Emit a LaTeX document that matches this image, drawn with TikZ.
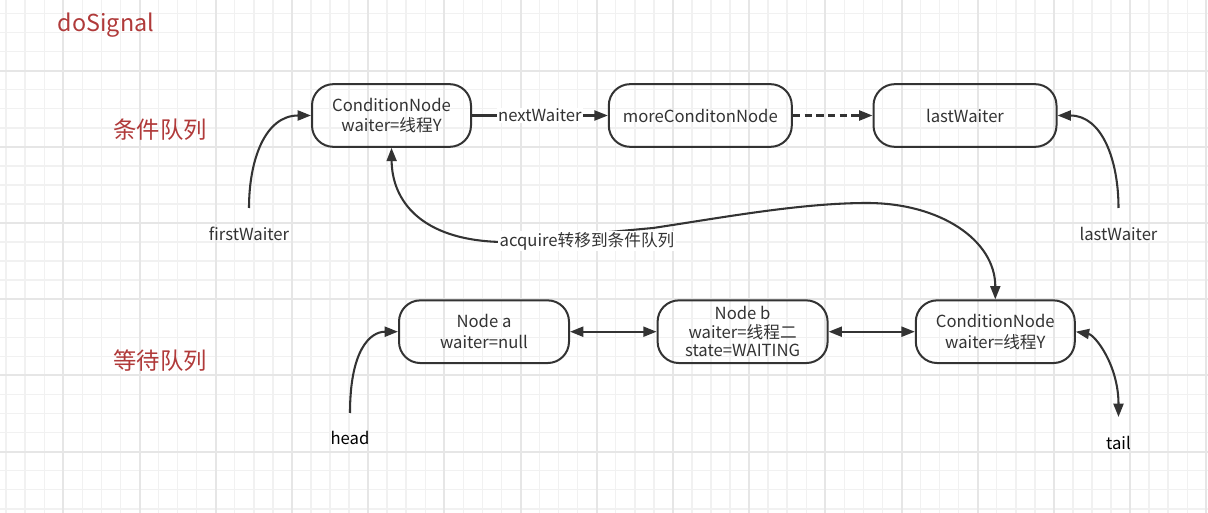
\documentclass[tikz,border=0pt]{standalone}
\usepackage{fontspec}
\setmainfont{Noto Sans CJK SC}
\usetikzlibrary{arrows.meta}
\definecolor{redt}{HTML}{B03A3A}
\definecolor{ln}{HTML}{333333}
\definecolor{gmin}{HTML}{F1F1F1}
\definecolor{gmaj}{HTML}{E6E6E6}
\begin{document}
\begin{tikzpicture}[x=0.75pt,y=-0.75pt,
  box/.style={draw=ln, line width=1.5pt, rounded corners=16pt, minimum height=47pt,
    inner sep=0pt, align=center, text=ln, font=\fontsize{12.5pt}{15.5pt}\selectfont},
  tip/.tip={Triangle[length=10pt,width=7.5pt]},
  conn/.style={draw=ln, line width=1.55pt, -tip},
  both/.style={draw=ln, line width=1.55pt, tip-tip},
  lbl/.style={text=ln, inner sep=1pt, font=\fontsize{12.5pt}{15pt}\selectfont},
  title/.style={text=redt, inner sep=0pt, font=\fontsize{17.5pt}{20pt}\selectfont},
  gridmin/.style={draw=gmin, line width=1.1pt},
  gridmaj/.style={draw=gmaj, line width=1.5pt}]
\fill[white] (0,0) rectangle (1208,513);
\useasboundingbox (0,0) rectangle (1208,513);
% grid
\foreach \i in {0,...,63} {\pgfmathsetmacro\xx{6.15+19.05*\i}\draw[gridmin] (\xx,0) -- (\xx,513);}
\foreach \j in {0,...,26} {\pgfmathsetmacro\yy{13.5+19.05*\j}\draw[gridmin] (0,\yy) -- (1208,\yy);}
\foreach \i in {0,...,15} {\pgfmathsetmacro\xx{63.3+76.2*\i}\draw[gridmaj] (\xx,0) -- (\xx,513);}
\foreach \j in {0,...,5} {\pgfmathsetmacro\yy{70.65+76.2*\j}\draw[gridmaj] (0,\yy) -- (1208,\yy);}
% titles
\node[title] (ds) at (106,25) {doSignal};
\node[title] (q1) at (160,130) {条件队列};
\node[title] (q2) at (160,361) {等待队列};
% nodes
\node[box, minimum width=119.25pt] (cn1) at (391.5,115.5) {ConditionNode\\waiter=线程Y};
\node[box, minimum width=137.25pt] (more) at (700.3,115.5) {moreConditonNode};
\node[box, minimum width=137.25pt] (last) at (965,115.5) {lastWaiter};
\node[box, minimum width=127.5pt] (na) at (484,331.7) {Node a\\waiter=null};
\node[box, minimum width=127.5pt, font=\fontsize{12.5pt}{14pt}\selectfont] (nb) at (742.6,331.7) {Node b\\waiter=线程二\\state=WAITING};
\node[box, minimum width=119.25pt] (cn2) at (995.3,331.7) {ConditionNode\\waiter=线程Y};
% labels
\node[lbl] (fw) at (249,234) {firstWaiter};
\node[lbl] (lw) at (1118.5,234) {lastWaiter};
\node[lbl, text=black] (head) at (350,438) {head};
\node[lbl, text=black] (tail) at (1118.5,443) {tail};
\coordinate (fwt) at (249,208);
\coordinate (lwt) at (1118.5,208);
\coordinate (hdt) at (350,413);
\coordinate (tlt) at (1118.5,417);
\coordinate (acL) at (501,242);
\coordinate (acR) at (653,228);
\coordinate (acP) at (867,203);
% connectors
\draw[conn] (cn1) -- node[lbl, fill=white] {nextWaiter} (more);
\draw[conn, dash pattern=on 5.5pt off 3.3pt] (more) -- (last);
\draw[conn] (fwt) .. controls (249,160) and (265,115.5) .. (cn1.west);
\draw[conn] (lwt) .. controls (1118.5,160) and (1102,115.5) .. (last.east);
\draw[conn] (hdt) .. controls (350,350) and (370,331.7) .. (na.west);
\draw[both] (cn2.east) .. controls (1095,335) and (1118.5,365) .. (tlt);
\draw[both] (na) -- (nb);
\draw[both] (nb) -- (cn2);
\draw[both] (cn1.south) .. controls (392,200) and (420,240) .. (acL) -- (acR)
  .. controls (720,218) and (800,203) .. (acP)
  .. controls (940,203) and (995.3,240) .. (cn2.north);
\node[lbl, fill=white] (acq) at (587,241) {acquire转移到条件队列};
\end{tikzpicture}
\end{document}
